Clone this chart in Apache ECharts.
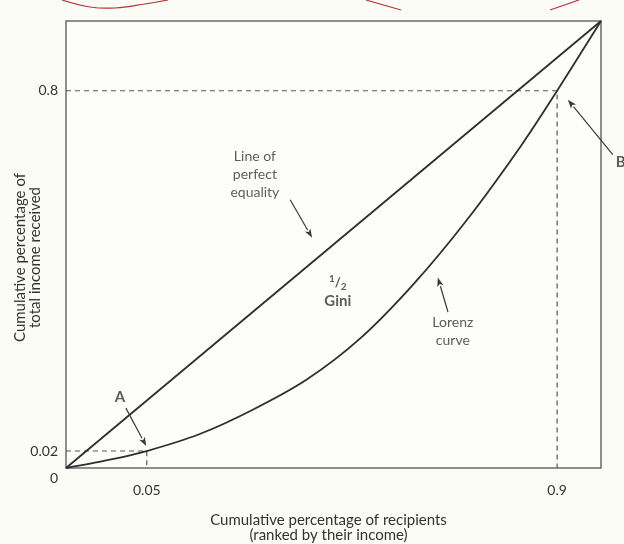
<!DOCTYPE html>
<html>
<head>
<meta charset="utf-8">
<script src="https://cdn.jsdelivr.net/npm/echarts@6/dist/echarts.min.js"></script>
<style>
    html, body { margin: 0; padding: 0; background: #fcfcf7; }
    #main { width: 624px; height: 544px; }
</style>
</head>
<body>
<div id="main"></div>
<script>
// positions on the schematic axes (0..1 of the box) and the labels printed there
const xTickPos = [0.151, 0.918];
const xTickLabels = ['0.05', '0.9'];
const yTickPos = [0, 0.038, 0.844];
const yTickLabels = ['0', '0.02', '0.8'];

// line of perfect equality
const equalityX = [0, 1];
const equalityY = [0, 1];

// lorenz curve
const lorenzX = [0, 0.075, 0.151, 0.25, 0.35, 0.45, 0.55, 0.65, 0.75, 0.85, 0.918, 1];
const lorenzY = [0, 0.017, 0.038, 0.076, 0.131, 0.198, 0.29, 0.412, 0.556, 0.72, 0.844, 1];

// points A and B marked by the dashed guides
const pointA = [0.151, 0.038];
const pointB = [0.918, 0.844];

const textColor = '#333';
const lineColor = '#2e2e2e';
const font = 'Lato';

const zip = (xs, ys) => xs.map((x, i) => [x, ys[i]]);

// arrows: from x, from y, to x, to y
const arrows = [
    [0.419, 0.600, 0.460, 0.515],
    [0.714, 0.349, 0.695, 0.426],
    [0.112, 0.134, 0.150, 0.049],
    [1.022, 0.701, 0.938, 0.824]
];

const notes = [
    { value: [0.353, 0.656], text: 'Line of\nperfect\nequality', bold: false },
    { value: [0.508, 0.394], text: '{s|1}{n|/}{b|2}\nGini', bold: true },
    { value: [0.723, 0.305], text: 'Lorenz\ncurve', bold: false },
    { value: [0.101, 0.159], text: 'A', bold: true },
    { value: [1.037, 0.685], text: 'B', bold: true }
];

const chart = echarts.init(document.getElementById('main'));

function renderArrow (params, api) {
    const p1 = api.coord([api.value(0), api.value(1)]);
    const p2 = api.coord([api.value(2), api.value(3)]);
    const ang = Math.atan2(p2[1] - p1[1], p2[0] - p1[0]);
    const len = 9, half = 3.2;
    const bx = p2[0] - len * Math.cos(ang), by = p2[1] - len * Math.sin(ang);
    const nx = -Math.sin(ang) * half, ny = Math.cos(ang) * half;
    return {
        type: 'group',
        children: [{
            type: 'line',
            shape: { x1: p1[0], y1: p1[1], x2: bx, y2: by },
            style: { stroke: '#3a3a3a', lineWidth: 1.2 }
        }, {
            type: 'polygon',
            shape: { points: [[p2[0], p2[1]], [bx + nx, by + ny], [bx + len * 0.25 * Math.cos(ang), by + len * 0.25 * Math.sin(ang)], [bx - nx, by - ny]] },
            style: { fill: '#3a3a3a' }
        }]
    };
}

const yAxisBase = {
    type: 'value',
    min: 0,
    max: 1,
    position: 'left',
    axisLine: { show: false },
    axisTick: { show: false },
    splitLine: { show: false }
};

const option = {
    backgroundColor: '#fcfcf7',
    animation: false,
    textStyle: { fontFamily: font },
    grid: {
        left: 66,
        right: 23,
        top: 21,
        bottom: 76,
        outerBoundsMode: 'none',
        containLabel: false,
        show: true,
        borderColor: '#6a6a6a',
        borderWidth: 1.5,
        backgroundColor: '#fdfdf9'
    },
    xAxis: {
        type: 'value',
        min: 0,
        max: 1,
        name: 'Cumulative percentage of recipients\n(ranked by their income)',
        nameLocation: 'middle',
        nameGap: 45,
        nameMoveOverlap: false,
        nameTextStyle: { color: textColor, fontSize: 15, lineHeight: 15, padding: [0, 10, 0, 0] },
        axisLine: { show: false },
        axisTick: { show: false },
        splitLine: { show: false },
        axisLabel: {
            customValues: xTickPos,
            color: textColor,
            fontSize: 14,
            margin: 15,
            formatter: (v) => xTickLabels[xTickPos.indexOf(v)]
        }
    },
    yAxis: [
        Object.assign({}, yAxisBase, {
            name: 'Cumulative percentage of\ntotal income received',
            nameLocation: 'middle',
            nameGap: 23,
            nameMoveOverlap: false,
            nameTextStyle: { color: textColor, fontSize: 15, lineHeight: 15, padding: [0, 26, 0, 0] },
            axisLabel: {
                customValues: yTickPos.slice(1),
                hideOverlap: false,
                color: textColor,
                fontSize: 14,
                margin: 8,
                formatter: (v) => yTickLabels[yTickPos.indexOf(v)]
            }
        }),
        // origin label sits just below the corner
        Object.assign({}, yAxisBase, {
            axisLabel: {
                customValues: yTickPos.slice(0, 1),
                showMinLabel: true,
                color: textColor,
                fontSize: 14,
                lineHeight: 20,
                verticalAlign: 'top',
                margin: 8,
                formatter: (v) => yTickLabels[yTickPos.indexOf(v)]
            }
        })
    ],
    graphic: [
        // red pen marks cut off at the top of the scan
        { type: 'polyline', shape: { points: [[62, 0], [90, 7], [115, 8], [145, 4], [168, 0]], smooth: 0.4 }, style: { stroke: '#b8333b', lineWidth: 1.2, fill: null } },
        { type: 'polyline', shape: { points: [[366, 0], [401, 10]] }, style: { stroke: '#b8333b', lineWidth: 1.2, fill: null } },
        { type: 'polyline', shape: { points: [[550, 10], [579, 0]] }, style: { stroke: '#b8333b', lineWidth: 1.2, fill: null } }
    ],
    series: [
        {
            name: 'Line of perfect equality',
            type: 'line',
            data: zip(equalityX, equalityY),
            symbol: 'none',
            lineStyle: { color: lineColor, width: 1.8 },
            z: 3
        },
        {
            name: 'Lorenz curve',
            type: 'line',
            data: zip(lorenzX, lorenzY),
            symbol: 'none',
            smooth: 0.3,
            lineStyle: { color: lineColor, width: 1.8 },
            z: 3
        },
        {
            name: 'guide A',
            type: 'line',
            data: [[0, pointA[1]], pointA, [pointA[0], 0]],
            symbol: 'none',
            lineStyle: { color: '#555', width: 1.2, type: [5, 4] },
            z: 2
        },
        {
            name: 'guide B',
            type: 'line',
            data: [[0, pointB[1]], pointB, [pointB[0], 0]],
            symbol: 'none',
            lineStyle: { color: '#555', width: 1.2, type: [5, 4] },
            z: 2
        },
        {
            name: 'arrows',
            type: 'custom',
            clip: false,
            silent: true,
            renderItem: renderArrow,
            data: arrows,
            z: 4
        },
        {
            name: 'notes',
            type: 'scatter',
            symbolSize: 0,
            clip: false,
            silent: true,
            data: notes.map((n) => ({
                value: n.value,
                label: {
                    show: true,
                    position: 'inside',
                    formatter: n.text,
                    color: textColor,
                    fontSize: n.bold ? 15 : 14,
                    fontWeight: n.bold ? 'bold' : 'normal',
                    lineHeight: 18,
                    align: 'center',
                    rich: {
                        s: { fontSize: 10, fontWeight: 'bold', color: textColor, verticalAlign: 'top', lineHeight: 18 },
                        n: { fontSize: 13, fontWeight: 'bold', color: textColor, lineHeight: 18 },
                        b: { fontSize: 10, fontWeight: 'bold', color: textColor, verticalAlign: 'bottom', lineHeight: 18 }
                    }
                }
            }))
        }
    ]
};

chart.setOption(option);
</script>
</body>
</html>
